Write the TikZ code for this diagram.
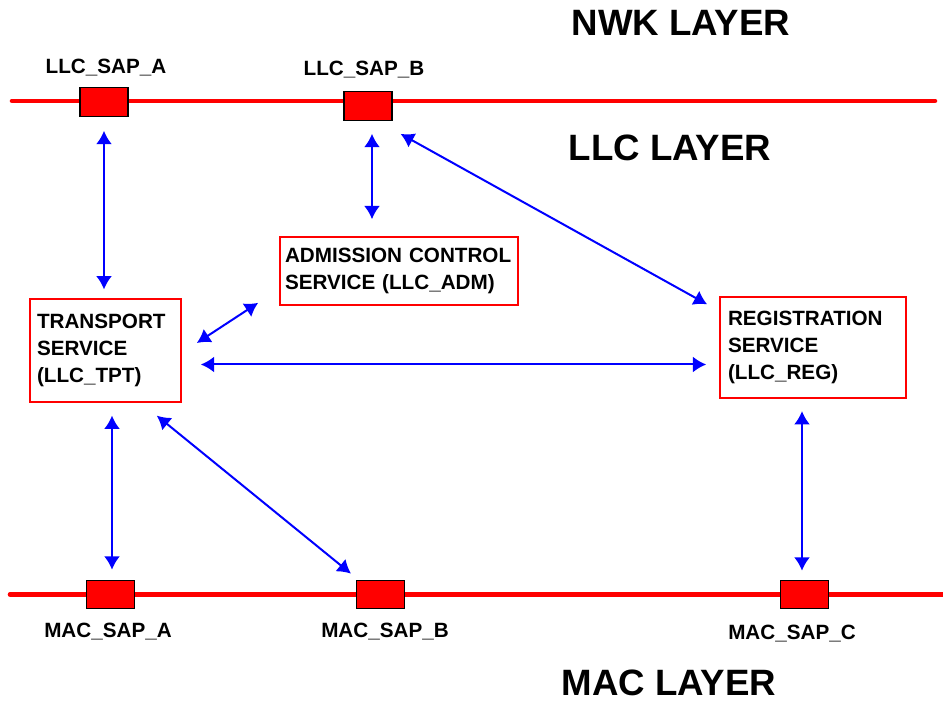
\documentclass[tikz,border=0pt]{standalone}
\usepackage{fontspec}
\setmainfont{Liberation Sans}
\usetikzlibrary{arrows.meta,calc}

\begin{document}
\begin{tikzpicture}[x=0.75pt,y=-0.75pt,>={Latex[length=10pt,width=12pt]},
  font=\fontsize{15.5}{20}\selectfont\bfseries]
  \tikzstyle{sap}=[rectangle,draw=black,fill=red,line width=0.8pt,minimum width=36pt,minimum height=21.5pt,inner sep=0pt]
  \tikzstyle{svc}=[rectangle,draw=red,line width=1.2pt,align=left,inner ysep=0pt]
  \tikzstyle{layer}=[font=\fontsize{27.5}{33}\selectfont\bfseries,inner sep=1pt]
  \tikzstyle{bus}=[red,line width=3.4pt,line cap=round]
  \tikzstyle{link}=[<->,blue,line width=1.5pt]

\useasboundingbox (0,0) rectangle (943,702);

% layer names
\node[layer] (nwk) at (681,23) {NWK LAYER};
\node[layer] (llc) at (670,148) {LLC LAYER};
\node[layer] (mac) at (669,683) {MAC LAYER};

% the two buses
\coordinate (topL) at (12,101);
\coordinate (topR) at (935,101);
\coordinate (botL) at (10,594.5);
\coordinate (botR) at (943,594.5);
\draw[bus] (topL) -- (topR);
\draw[bus] (botL) -- (botR);

% access points
\foreach \n/\x/\y/\t/\lx/\ly in {llcA/104/102/LLC\_SAP\_A/106/68,
  llcB/368/106/LLC\_SAP\_B/364/70, macA/110.5/594.5/MAC\_SAP\_A/108/632,
  macB/380.5/594.5/MAC\_SAP\_B/385/632, macC/804.5/594.5/MAC\_SAP\_C/792/634} {
  \node[sap] (\n) at (\x,\y) {};
  \node (\n-name) at (\lx,\ly) {\t};
}

% services
\node[svc,text width=171pt,inner xsep=3.75pt,minimum height=51pt] (adm) at (399,271)
  {ADMISSION CONTROL\\SERVICE (LLC\_ADM)};
\node[svc,text width=102.75pt,inner xsep=5.25pt,minimum height=77pt] (tpt) at (105.5,350.5)
  {TRANSPORT\\SERVICE\\(LLC\_TPT)};
\node[svc,text width=127.5pt,inner xsep=6pt,minimum height=75.5pt] (reg) at (813,347.5)
  {REGISTRATION\\SERVICE\\(LLC\_REG)};

% links
\draw[link] ($(llcA.south)+(0,14)$) -- ($(llcA.south |- tpt.north)+(0,-9)$);
\draw[link] ($(llcB.south)+(4,13)$) -- ($(llcB.south |- adm.north)+(4,-17)$);
\draw[link] ($(llcB.south east)+(8,13)$) -- ($(reg.north west)+(-12,8)$);
\draw[link] ($(tpt.east)+(15,-7.5)$) -- ($(adm.south west)+(-21,-3)$);
\draw[link] ($(tpt.east)+(19,14)$) -- ($(tpt.east -| reg.west)+(-13,14)$);
\draw[link] ($(macA.north |- tpt.south)+(1.5,13)$) -- ($(macA.north)+(1.5,-10)$);
\draw[link] ($(tpt.south east)+(-25,13)$) -- ($(macB.north west)+(-5,-6)$);
\draw[link] ($(macC.north |- reg.south)+(-2.5,12.5)$) -- ($(macC.north)+(-2.5,-9)$);

\end{tikzpicture}
\end{document}
